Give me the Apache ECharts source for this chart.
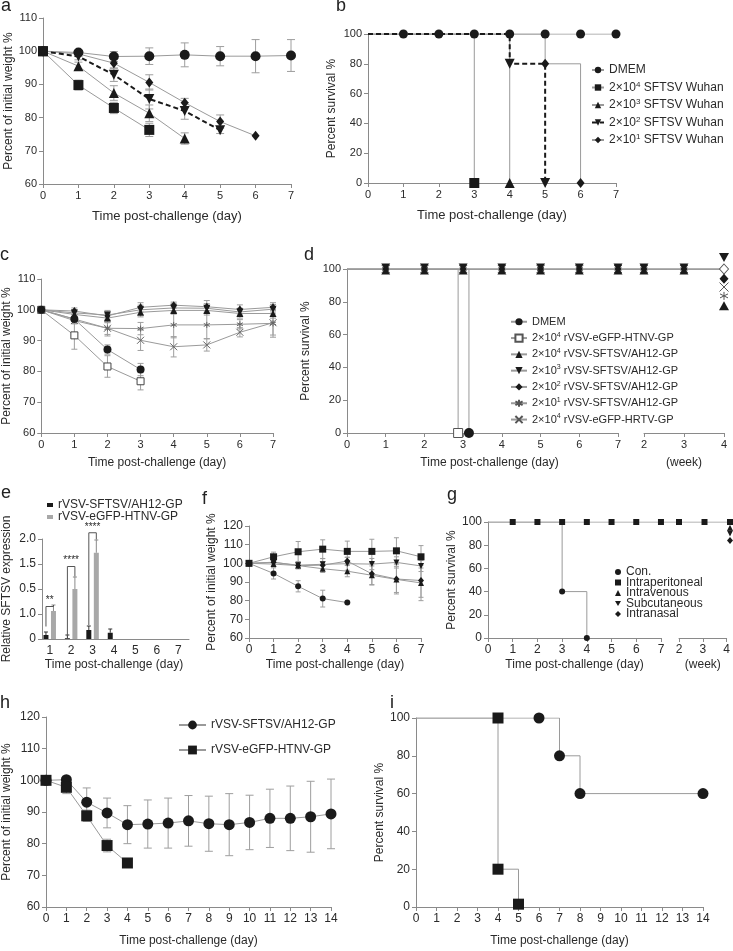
<!DOCTYPE html>
<html><head><meta charset="utf-8">
<script src="https://cdn.jsdelivr.net/npm/echarts@6/dist/echarts.min.js"></script>
<style>html,body{margin:0;padding:0;background:#fff}#c{width:733px;height:951px}</style>
</head><body><div id="c"></div>
<script>
// ================= DATA =================
// a: body weight after SFTSV Wuhan challenge
const aDays = [0,1,2,3,4,5,6,7];
const aDMEM = [100, 99.6, 98.4, 98.5, 98.9, 98.5, 98.5, 98.7];
const aDMEMErr = [0, 0.6, 1.5, 2.5, 3.6, 2.9, 5, 4.8];
const a2e4 = [100, 89.8, 82.9, 76.3];
const a2e4Err = [0, 1.5, 1.7, 2];
const a2e3 = [100, 95.5, 87.4, 81.3, 73.7];
const a2e3Err = [0, 1.2, 2.2, 2.5, 1.7];
const a2e2 = [100, 98.4, 92.9, 85.6, 82, 76.2];
const a2e2Err = [0, 1, 2, 3, 2.5, 1];
const a2e1 = [100, 99.2, 96.4, 90.6, 84.5, 78.8, 74.5];
const a2e1Err = [0, 0.8, 1.5, 2.3, 1.3, 2, 0];

// b: survival after SFTSV Wuhan challenge
const bNames = ['DMEM', '2×10^4 SFTSV Wuhan', '2×10^3 SFTSV Wuhan', '2×10^2 SFTSV Wuhan', '2×10^1 SFTSV Wuhan'];
const bDMEM_t = [0,1,2,3,4,5,6,7], bDMEM_s = [100,100,100,100,100,100,100,100];
const b2e4_t = [0,3], b2e4_s = [100,0];
const b2e3_t = [0,4], b2e3_s = [100,0];
const b2e2_t = [0,4,5], b2e2_s = [100,80,0];
const b2e1_t = [0,5,6], b2e1_s = [100,80,0];

// c: body weight, rVSV vaccines
const cDays = [0,1,2,3,4,5,6,7];
const cDMEM = [100, 97, 87.1, 80.6];            const cDMEMErr = [0, 1.5, 1.5, 2];
const cHTNV = [100, 91.7, 81.6, 76.8];          const cHTNVErr = [0, 4.5, 3.5, 2.8];
const cAH4 = [100, 98.5, 97.3, 99.2, 99.8, 99.8, 98.8, 98.8];   const cAH4Err = [0,1,1.5,1.5,1.2,1.5,1.5,1.5];
const cAH3 = [100, 99, 98.3, 100, 100.6, 100.5, 99.3, 100.2];   const cAH3Err = [0,1,1.5,1.5,1.5,1.5,1.2,1.5];
const cAH2 = [100, 99.6, 98, 100.8, 101.5, 101, 100.1, 100.8];  const cAH2Err = [0,1,1.5,1.5,1,2,1.5,1.5];
const cAH1 = [100, 97, 94, 93.9, 95.1, 95.1, 95.3, 95.6];       const cAH1Err = [0,1.5,2,2,4.2,4.5,1.5,4.5];
const cHRTV = [100, 96.5, 94, 90.1, 88, 88.6, 92.7, 95.8];      const cHRTVErr = [0,1,2.5,3.3,3.3,2,1.5,4];

// d: survival, rVSV vaccines (times: days, 'w' = weeks)
const dNames = ['DMEM', '2×10^4 rVSV-eGFP-HTNV-GP', '2×10^4 rVSV-SFTSV/AH12-GP', '2×10^3 rVSV-SFTSV/AH12-GP',
                '2×10^2 rVSV-SFTSV/AH12-GP', '2×10^1 rVSV-SFTSV/AH12-GP', '2×10^4 rVSV-eGFP-HRTV-GP'];
const dDMEM_t = [0, 3.15], dDMEM_s = [100, 0];
const dHTNV_t = [0, 2.87], dHTNV_s = [100, 0];
const dSurv_t = ['0','1','2','3','4','5','6','7','2w','3w','4w'];
const dSurv_s = [100,100,100,100,100,100,100,100,100,100,100];
const dW4Shown = [107, 100, 94, 89, 83.6, 77.6];   // markers stacked at week 4 (▼ ◇ ◆ × * ▲)

// e: relative SFTSV expression
const eDays = ['1','2','3','4','5','6','7'];
const eTickLabels = ['0', '1.0', '0.5', '1.5', '2.0'];
const eAH12 = [0.16, 0.03, 0.36, 0.25, null, null, null];
const eAH12Err = [0.12, 0.13, 0.16, 0.15, 0, 0, 0];
const eHTNV = [1.12, 2.0, 3.45, null, null, null, null];
const eHTNVErr = [0.24, 0.48, 0.51, 0, 0, 0, 0];
const eSigDay = [0, 1, 2];
const eSigTop = [1.3, 2.9, 4.25];
const eSigLeftEnd = [0.5, 0.1, 0.56];
const eSigRightEnd = [1.36, 2.5, 3.98];
const eSigText = ['**', '****', '****'];

// f: body weight by route
const fDays = [0,1,2,3,4,5,6,7];
const fCon = [100, 94.6, 87.7, 81.1, 79];                        const fConErr = [0, 3, 3, 4.5, 0];
const fIP = [100, 103.5, 106.2, 107.6, 106.4, 106.4, 106.7, 103.5]; const fIPErr = [0, 2.5, 5.5, 5, 5.5, 6.5, 7, 6];
const fIV = [100, 99.6, 98.8, 97.1, 95.8, 93.6, 91.4, 89.5];     const fIVErr = [0, 1.5, 1.5, 2, 3, 5, 7, 9.5];
const fSC = [100, 100.5, 99, 99.5, 99.8, 99.6, 100.5, 98.6];     const fSCErr = [0, 2, 2, 3, 3.5, 3, 3, 3];
const fIN = [100, 100.6, 98.8, 99, 101.2, 94.4, 91.6, 90.8];     const fINErr = [0, 1.5, 1.5, 2, 2, 6, 8, 9];

// g: survival by route
const gNames = ['Con.', 'Intraperitoneal', 'Intravenous', 'Subcutaneous', 'Intranasal'];
const gCon_t = [0, 3, 4], gCon_s = [100, 40, 0];
const gIP_t = ['0','1','2','3','4','5','6','7','2w','3w','4w'];
const gIP_s = [100,100,100,100,100,100,100,100,100,100,100];
const gW4Shown = [95, 90, 84];   // IV, SC, IN markers stacked at week 4

// h: body weight, 14 days
const hDays = [0,1,2,3,4,5,6,7,8,9,10,11,12,13,14];
const hAH12 = [100, 100.2, 93.1, 89.7, 86.0, 86.2, 86.5, 87.2, 86.3, 86.0, 86.7, 88.0, 88.0, 88.5, 89.4];
const hAH12Err = [0, 0, 4.5, 4.7, 6, 7.6, 7.9, 8, 8.7, 9.8, 8.6, 9.2, 10.2, 11.2, 11];
const hHTNV = [100, 97.8, 88.8, 79.4, 73.9];
const hHTNVErr = [0, 2, 1.8, 2, 0];

// i: survival, 14 days
const iAH12_t = [0, 6, 7, 8, 14], iAH12_s = [100, 100, 80, 60, 60];
const iHTNV_t = [0, 4, 4, 5], iHTNV_s = [100, 100, 20, 1.5];

// ================= HELPERS =================
const F = 'Liberation Sans, Arial, Helvetica, sans-serif';
const AXC = '#8a8a8a', TXT = '#2a2a2a', LN = '#9a9a9a', MK = '#1a1a1a', EB = '#9e9e9e';
const INV = 'path://M0,0L10,0L5,8.7Z';
const STAR = 'path://M5,0L5,10M0.7,2.5L9.3,7.5M0.7,7.5L9.3,2.5';
const CROSS = 'path://M0,0L10,10M10,0L0,10';

// break-axis scale for d and g: weeks placed after day 7 on a compressed scale
const D_W2 = 7.67, D_WK = 1.034, G_W2 = 7.73, G_WK = 1.032;
const dPos = t => String(t).endsWith('w') ? D_W2 + (parseFloat(t) - 2) * D_WK : +t;
const gPos = t => String(t).endsWith('w') ? G_W2 + (parseFloat(t) - 2) * G_WK : +t;

const grids = [], xAxes = [], yAxes = [], series = [], legends = [], graphics = [];
function addGrid(rect, xa, ya) {
  const i = grids.length;
  grids.push(rect);
  xa.gridIndex = i; ya.gridIndex = i;
  xAxes.push(xa); yAxes.push(ya);
  return i;
}
function axisV(min, max, interval, o) {
  o = o || {};
  const ax = {type: 'value', min, max, interval,
    axisLine: {show: true, onZero: false, lineStyle: {color: AXC, width: 1}},
    axisTick: {show: o.tick !== false, length: 4, lineStyle: {color: AXC}},
    splitLine: {show: false},
    axisLabel: {color: TXT, fontSize: o.fs || 11, fontFamily: F, margin: o.margin || 6},
    nameTextStyle: {color: TXT, fontSize: o.nfs || 12, fontFamily: F, padding: o.pad || 0}};
  if (o.fmt) ax.axisLabel.formatter = o.fmt;
  if (o.name) { ax.name = o.name; ax.nameLocation = 'middle'; ax.nameGap = o.gap; }
  if (o.offset) ax.offset = o.offset;
  return ax;
}
const hidden = (min, max) => ({type: 'value', min, max, show: false});

function line(name, gi, xs, ys, sym, size, opt) {
  opt = opt || {};
  const data = xs.map((x, i) => {
    const d = {value: [x, ys[i]]};
    if (opt.hide && opt.hide(i)) d.symbol = 'none';
    return d;
  });
  const s = {type: 'line', name, xAxisIndex: gi, yAxisIndex: gi, data, symbol: sym, symbolSize: size,
    showAllSymbol: true, animation: false, z: 3,
    lineStyle: {color: opt.lc || LN, width: opt.lw || 1, type: opt.dash || 'solid'},
    itemStyle: opt.item || {color: MK}};
  if (opt.step) s.step = opt.step;
  if (opt.offset) s.symbolOffset = opt.offset;
  if (opt.z) s.z = opt.z;
  return s;
}
function scatter(gi, pts, sym, size, item) {
  return {type: 'scatter', xAxisIndex: gi, yAxisIndex: gi, data: pts, symbol: sym, symbolSize: size,
    itemStyle: Object.assign({opacity: 1}, item || {color: MK}), clip: false, z: 4, animation: false, silent: true};
}
function errBars(gi, xs, ys, errs, color, cap, dx) {
  const data = [];
  xs.forEach((x, i) => { if (ys[i] != null && errs[i] > 0) data.push([x, ys[i] - errs[i], ys[i] + errs[i]]); });
  return {type: 'custom', xAxisIndex: gi, yAxisIndex: gi, silent: true, z: 2, animation: false, clip: false,
    data,
    renderItem(params, api) {
      const lo = api.coord([api.value(0), api.value(1)]);
      const hi = api.coord([api.value(0), api.value(2)]);
      const x = lo[0] + (dx || 0), c = cap / 2;
      const st = {stroke: color, lineWidth: 1};
      return {type: 'group', children: [
        {type: 'line', shape: {x1: x, y1: lo[1], x2: x, y2: hi[1]}, style: st},
        {type: 'line', shape: {x1: x - c, y1: lo[1], x2: x + c, y2: lo[1]}, style: st},
        {type: 'line', shape: {x1: x - c, y1: hi[1], x2: x + c, y2: hi[1]}, style: st}]};
    }};
}
function upperErr(gi, xs, ys, errs, color, cap, dx) {
  const data = [];
  xs.forEach((x, i) => { if (ys[i] != null && errs[i] > 0) data.push([x, ys[i], ys[i] + errs[i]]); });
  return {type: 'custom', xAxisIndex: gi, yAxisIndex: gi, silent: true, z: 4, animation: false, clip: false,
    data,
    renderItem(params, api) {
      const lo = api.coord([api.value(0), api.value(1)]);
      const hi = api.coord([api.value(0), api.value(2)]);
      const x = lo[0] + dx, c = cap / 2;
      const st = {stroke: color, lineWidth: 1};
      return {type: 'group', children: [
        {type: 'line', shape: {x1: x, y1: lo[1], x2: x, y2: hi[1]}, style: st},
        {type: 'line', shape: {x1: x - c, y1: hi[1], x2: x + c, y2: hi[1]}, style: st}]};
    }};
}
const fmtName = n => n.slice(n.indexOf('|') + 1).replace(/\^(\d)/g, '{sup|$1}');
function legendText(fs, lh) {
  return {color: TXT, fontSize: fs, fontFamily: F, lineHeight: lh,
    rich: {sup: {fontSize: Math.round(fs * 0.68), fontFamily: F, color: TXT, lineHeight: Math.round(fs * 0.7), verticalAlign: 'top'}}};
}
const hideFirst = i => i === 0;
const open = (c) => ({color: '#fff', borderColor: c, borderWidth: 1});
const stroke = (c) => ({color: 'rgba(0,0,0,0)', borderColor: c, borderWidth: 1});

// ================= PANEL a =================
const ga = addGrid({left: 43, top: 18, width: 248, height: 166},
  axisV(0, 7, 1, {name: 'Time post-challenge (day)', gap: 26, nfs: 13}),
  axisV(60, 110, 10, {name: 'Percent of initial weight %', gap: 26}));
series.push(
  errBars(ga, aDays, aDMEM, aDMEMErr, EB, 8), errBars(ga, aDays, a2e4, a2e4Err, EB, 8),
  errBars(ga, aDays, a2e3, a2e3Err, EB, 8), errBars(ga, aDays, a2e2, a2e2Err, EB, 8),
  errBars(ga, aDays, a2e1, a2e1Err, EB, 8),
  line('a|DMEM', ga, aDays.slice(0, aDMEM.length), aDMEM, 'circle', 10),
  line('a|2e4', ga, aDays.slice(0, a2e4.length), a2e4, 'rect', 10),
  line('a|2e3', ga, aDays.slice(0, a2e3.length), a2e3, 'triangle', 10),
  line('a|2e1', ga, aDays.slice(0, a2e1.length), a2e1, 'diamond', [8, 10]),
  line('a|2e2', ga, aDays.slice(0, a2e2.length), a2e2, INV, 10, {lc: MK, lw: 2, dash: [5, 3], z: 5}));

// ================= PANEL b =================
const gb = addGrid({left: 368, top: 34, width: 248, height: 149},
  axisV(0, 7, 1, {name: 'Time post-challenge (day)', gap: 26, nfs: 13}),
  axisV(0, 100, 20, {name: 'Percent survival %', gap: 30}));
series.push(
  line('b|' + bNames[0], gb, bDMEM_t, bDMEM_s, 'circle', 9, {hide: hideFirst}),
  line('b|' + bNames[1], gb, b2e4_t, b2e4_s, 'rect', 10, {hide: hideFirst, step: 'end'}),
  line('b|' + bNames[2], gb, b2e3_t, b2e3_s, 'triangle', 10, {hide: hideFirst, step: 'end'}),
  line('b|' + bNames[4], gb, b2e1_t, b2e1_s, 'diamond', [8, 10], {hide: hideFirst, step: 'end'}),
  line('b|' + bNames[3], gb, b2e2_t, b2e2_s, INV, 10, {hide: hideFirst, step: 'end', lc: MK, lw: 2, dash: [5, 3], z: 5}));
legends.push({orient: 'vertical', left: 586, top: 58, itemWidth: 12, itemHeight: 8, itemGap: 3.5, selectedMode: false,
  data: bNames.map(n => 'b|' + n), formatter: fmtName, textStyle: legendText(12, 14)});

// ================= PANEL c =================
const gc = addGrid({left: 41, top: 279, width: 232, height: 154},
  axisV(0, 7, 1, {name: 'Time post-challenge (day)', gap: 24}),
  axisV(60, 110, 10, {name: 'Percent of initial weight %', gap: 23}));
series.push(
  errBars(gc, cDays, cDMEM, cDMEMErr, EB, 6), errBars(gc, cDays, cHTNV, cHTNVErr, EB, 6),
  errBars(gc, cDays, cAH4, cAH4Err, EB, 6), errBars(gc, cDays, cAH3, cAH3Err, EB, 6),
  errBars(gc, cDays, cAH2, cAH2Err, EB, 6), errBars(gc, cDays, cAH1, cAH1Err, EB, 6),
  errBars(gc, cDays, cHRTV, cHRTVErr, EB, 6),
  line('c|HRTV', gc, cDays, cHRTV, CROSS, 7, {item: stroke('#666')}),
  line('c|AH1', gc, cDays, cAH1, STAR, 6, {item: stroke('#666')}),
  line('c|AH4', gc, cDays, cAH4, 'triangle', 7),
  line('c|AH3', gc, cDays, cAH3, INV, 7),
  line('c|AH2', gc, cDays, cAH2, 'diamond', [6, 8]),
  line('c|HTNV', gc, cDays.slice(0, cHTNV.length), cHTNV, 'rect', 7, {item: open('#444')}),
  line('c|DMEM', gc, cDays.slice(0, cDMEM.length), cDMEM, 'circle', 8));

// ================= PANEL d =================
const D_MAX = D_W2 + 2 * D_WK;
const gd = addGrid({left: 347, top: 269, width: 377, height: 164},
  hidden(0, D_MAX), axisV(0, 100, 20, {name: 'Percent survival %', gap: 32}));
const gdDay = addGrid({left: 347, top: 269, width: 271, height: 164},
  axisV(0, 7, 1, {name: 'Time post-challenge (day)', gap: 24, pad: [0, 0, 0, 14]}), hidden(0, 100));
const gdWk = addGrid({left: 644, top: 269, width: 80, height: 164},
  axisV(2, 4, 1, {name: '(week)', gap: 24}), hidden(0, 100));
const dSurvX = dSurv_t.map(dPos);
const survHide = i => i === 0 || i === dSurvX.length - 1;
series.push(
  line('d|' + dNames[6], gd, dSurvX, dSurv_s, CROSS, 8, {hide: survHide, item: stroke('#555')}),
  line('d|' + dNames[5], gd, dSurvX, dSurv_s, STAR, 7, {hide: survHide, item: stroke('#555')}),
  line('d|' + dNames[4], gd, dSurvX, dSurv_s, 'diamond', [7, 8], {hide: survHide}),
  line('d|' + dNames[2], gd, dSurvX, dSurv_s, 'triangle', [9, 7], {hide: survHide, offset: [0, 2]}),
  line('d|' + dNames[3], gd, dSurvX, dSurv_s, INV, [9, 7], {hide: survHide, offset: [0, -2]}),
  line('d|' + dNames[1], gd, dHTNV_t, dHTNV_s, 'rect', 9, {hide: hideFirst, step: 'end', item: open('#555')}),
  line('d|' + dNames[0], gd, dDMEM_t, dDMEM_s, 'circle', 10, {hide: hideFirst, step: 'end'}));
const w4 = dPos('4w');
series.push(
  scatter(gd, [[w4, dW4Shown[0]]], INV, [10, 9]),
  scatter(gd, [[w4, dW4Shown[1]]], 'diamond', [9, 10], open('#555')),
  scatter(gd, [[w4, dW4Shown[2]]], 'diamond', [9, 10]),
  scatter(gd, [[w4, dW4Shown[3]]], CROSS, 9, stroke('#555')),
  scatter(gd, [[w4, dW4Shown[4]]], STAR, 8, stroke('#555')),
  scatter(gd, [[w4, dW4Shown[5]]], 'triangle', [10, 9]));
legends.push({orient: 'vertical', left: 505, top: 310, itemWidth: 16, itemHeight: 9, itemGap: 2.8, selectedMode: false,
  data: dNames.map(n => 'd|' + n), formatter: fmtName, textStyle: legendText(11, 13.5)});

// ================= PANEL e =================
const ge = addGrid({left: 38, top: 539, width: 151, height: 100},
  {type: 'category', data: eDays, boundaryGap: true,
   axisLine: {show: true, lineStyle: {color: AXC}}, axisTick: {show: false},
   axisLabel: {color: TXT, fontSize: 12, fontFamily: F, margin: 6},
   name: 'Time post-challenge (day)', nameLocation: 'middle', nameGap: 20,
   nameTextStyle: {color: TXT, fontSize: 12, fontFamily: F}},
  axisV(0, 4, 1, {name: 'Relative SFTSV expression', gap: 29, fs: 12, offset: -3,
    fmt: (v) => eTickLabels[Math.round(v)]}));
series.push(
  {type: 'bar', name: 'e|rVSV-SFTSV/AH12-GP', xAxisIndex: ge, yAxisIndex: ge, data: eAH12, barWidth: 5, barGap: '50%',
   itemStyle: {color: MK}, animation: false, z: 3},
  {type: 'bar', name: 'e|rVSV-eGFP-HTNV-GP', xAxisIndex: ge, yAxisIndex: ge, data: eHTNV, barWidth: 5, barGap: '50%',
   itemStyle: {color: '#a8a8a8'}, animation: false, z: 3},
  upperErr(ge, eDays.map((d, i) => i), eAH12, eAH12Err, '#333', 4, -3.75),
  upperErr(ge, eDays.map((d, i) => i), eHTNV, eHTNVErr, '#8a8a8a', 4, 3.75),
  {type: 'custom', xAxisIndex: ge, yAxisIndex: ge, silent: true, z: 5, animation: false, clip: false,
   data: eSigDay.map((d, i) => [d, eSigTop[i], eSigLeftEnd[i], eSigRightEnd[i], i]),
   renderItem(params, api) {
     const top = api.coord([api.value(0), api.value(1)]);
     const l = api.coord([api.value(0), api.value(2)]);
     const r = api.coord([api.value(0), api.value(3)]);
     const xl = top[0] - 3.75, xr = top[0] + 3.75;
     return {type: 'group', children: [
       {type: 'polyline', shape: {points: [[xl, l[1]], [xl, top[1]], [xr, top[1]], [xr, r[1]]]},
        style: {stroke: '#555', lineWidth: 1, fill: null}},
       {type: 'text', x: top[0], y: top[1] - 1,
        style: {text: eSigText[api.value(4)], fill: TXT, font: '10px ' + F, align: 'center', verticalAlign: 'bottom'}}]};
   }});
legends.push({orient: 'vertical', left: 42, top: 494, itemWidth: 6, itemHeight: 4, itemGap: 0, selectedMode: false,
  icon: 'rect', data: ['e|rVSV-SFTSV/AH12-GP', 'e|rVSV-eGFP-HTNV-GP'], formatter: fmtName, textStyle: legendText(12, 11)});

// ================= PANEL f =================
const gf = addGrid({left: 249, top: 526, width: 172, height: 112},
  axisV(0, 7, 1, {name: 'Time post-challenge (day)', gap: 21, fs: 12}),
  axisV(60, 120, 10, {name: 'Percent of initial weight %', gap: 31, fs: 12}));
series.push(
  errBars(gf, fDays, fCon, fConErr, EB, 5), errBars(gf, fDays, fIP, fIPErr, EB, 5),
  errBars(gf, fDays, fIV, fIVErr, EB, 5), errBars(gf, fDays, fSC, fSCErr, EB, 5),
  errBars(gf, fDays, fIN, fINErr, EB, 5),
  line('f|IV', gf, fDays, fIV, 'triangle', 6),
  line('f|IN', gf, fDays, fIN, 'diamond', [6, 7]),
  line('f|SC', gf, fDays, fSC, INV, 6),
  line('f|IP', gf, fDays, fIP, 'rect', 7),
  line('f|Con', gf, fDays.slice(0, fCon.length), fCon, 'circle', 6));

// ================= PANEL g =================
const G_MAX = G_W2 + 2 * G_WK;
const gg = addGrid({left: 488, top: 522, width: 242, height: 116},
  hidden(0, G_MAX), axisV(0, 100, 20, {name: 'Percent survival %', gap: 30, fs: 12}));
const ggDay = addGrid({left: 488, top: 522, width: 173, height: 116},
  axisV(0, 7, 1, {name: 'Time post-challenge (day)', gap: 21, fs: 12}), hidden(0, 100));
const ggWk = addGrid({left: 679, top: 522, width: 51, height: 116},
  axisV(2, 4, 1, {name: '(week)', gap: 21, fs: 12}), hidden(0, 100));
const gIPX = gIP_t.map(gPos);
const gw4 = gPos('4w');
series.push(
  line('g|' + gNames[1], gg, gIPX, gIP_s, 'rect', 6, {hide: hideFirst}),
  line('g|' + gNames[0], gg, gCon_t, gCon_s, 'circle', 6, {hide: hideFirst, step: 'end'}),
  Object.assign(scatter(gg, [[gw4, gW4Shown[0]]], 'triangle', 6), {name: 'g|' + gNames[2]}),
  Object.assign(scatter(gg, [[gw4, gW4Shown[1]]], INV, 6), {name: 'g|' + gNames[3]}),
  Object.assign(scatter(gg, [[gw4, gW4Shown[2]]], 'diamond', [6, 7]), {name: 'g|' + gNames[4]}));
legends.push({orient: 'vertical', left: 610, top: 561, itemWidth: 6, itemHeight: 6, itemGap: -1.5, selectedMode: false,
  data: [{name: 'g|Con.', icon: 'circle'}, {name: 'g|Intraperitoneal', icon: 'rect'},
         {name: 'g|Intravenous', icon: 'triangle'}, {name: 'g|Subcutaneous', icon: INV},
         {name: 'g|Intranasal', icon: 'diamond'}],
  formatter: fmtName, textStyle: legendText(12, 10.5)});

// ================= PANEL h =================
const gh = addGrid({left: 46, top: 717, width: 285, height: 190},
  axisV(0, 14, 1, {name: 'Time post-challenge (day)', gap: 28, fs: 12}),
  axisV(60, 120, 10, {name: 'Percent of initial weight %', gap: 33, fs: 12}));
series.push(
  errBars(gh, hDays, hAH12, hAH12Err, EB, 8), errBars(gh, hDays, hHTNV, hHTNVErr, EB, 8),
  line('h|rVSV-SFTSV/AH12-GP', gh, hDays, hAH12, 'circle', 11),
  line('h|rVSV-eGFP-HTNV-GP', gh, hDays.slice(0, hHTNV.length), hHTNV, 'rect', 11));
legends.push({orient: 'vertical', left: 173, top: 713, itemWidth: 27, itemHeight: 11, itemGap: 11, selectedMode: false,
  data: ['h|rVSV-SFTSV/AH12-GP', 'h|rVSV-eGFP-HTNV-GP'], formatter: fmtName, textStyle: legendText(12, 14)});

// ================= PANEL i =================
const gi = addGrid({left: 416, top: 718, width: 287, height: 189},
  axisV(0, 14, 1, {name: 'Time post-challenge (day)', gap: 28, fs: 12}),
  axisV(0, 100, 20, {name: 'Percent survival %', gap: 29, fs: 12}));
series.push(
  line('i|AH12', gi, iAH12_t, iAH12_s, 'circle', 11, {hide: hideFirst, step: 'end'}),
  line('i|HTNV', gi, iHTNV_t, iHTNV_s, 'rect', 11, {hide: hideFirst, step: 'end'}));

// ================= panel letters =================
[['a', 1, -3], ['b', 336, -3], ['c', 0, 246], ['d', 304, 246], ['e', 1, 484], ['f', 202, 490],
 ['g', 447, 486], ['h', 0, 694], ['i', 390, 694]].forEach(([t, x, y]) => {
  graphics.push({type: 'text', left: x, top: y, silent: true,
    style: {text: t, fontSize: 18, fontFamily: F, fill: '#222'}});
});

const chart = echarts.init(document.getElementById('c'), null, {renderer: 'canvas'});
chart.setOption({animation: false, backgroundColor: '#fff', textStyle: {fontFamily: F},
  tooltip: {show: false},
  grid: grids, xAxis: xAxes, yAxis: yAxes, series, legend: legends, graphic: graphics});
</script>
</body></html>
